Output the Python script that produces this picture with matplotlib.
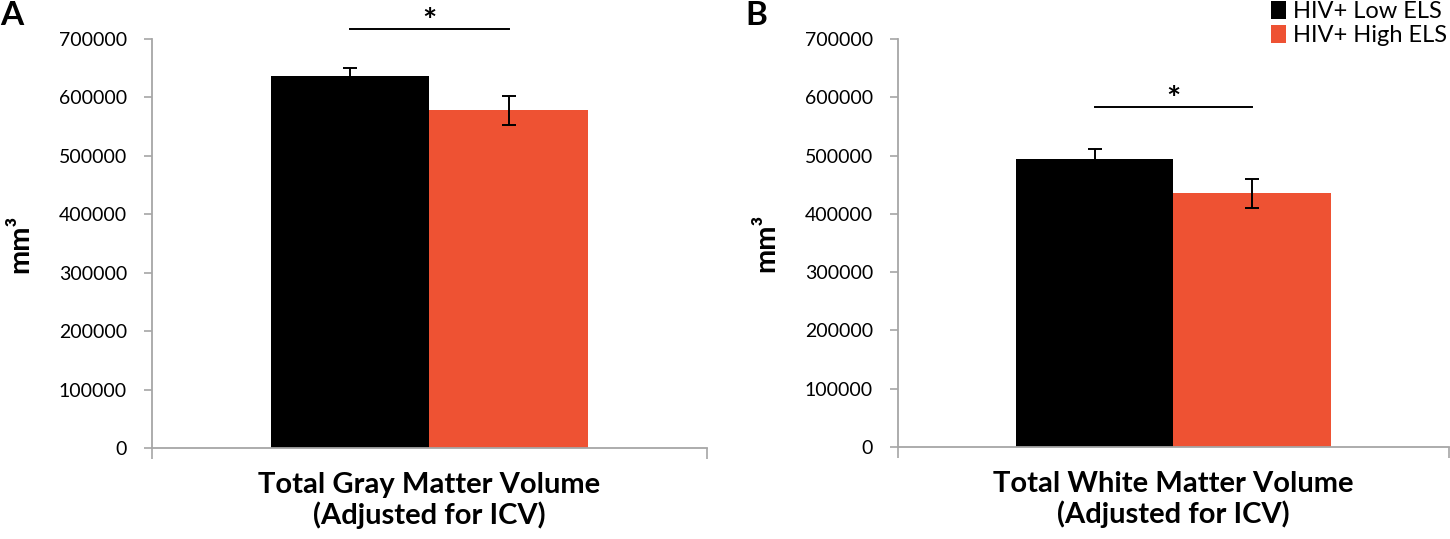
import numpy as np
import matplotlib
matplotlib.use("Agg")
import matplotlib.pyplot as plt
from matplotlib.patches import Patch

plt.rcParams['font.family'] = ['Lato', 'DejaVu Sans']

groups = ['HIV+ Low ELS', 'HIV+ High ELS']
colors = ['#000000', '#EE5233']

# panel A: total gray matter, panel B: total white matter (mm^3)
gray_means = [636000, 578000]
gray_errs = [14000, 25000]
white_means = [493500, 435000]
white_errs = [18000, 25000]

panel_titles = ['Total Gray Matter Volume\n(Adjusted for ICV)',
                'Total White Matter Volume\n(Adjusted for ICV)']
yticks = np.arange(0, 700001, 100000)

# significance bar heights (data units) and star heights
sig_y = [716500, 583000]
star_y = [728000, 594000]

fig = plt.figure(figsize=(14.5, 5.39), dpi=100)
axA = fig.add_axes([0.1048, 0.1688, 0.3828, 0.7588])
axB = fig.add_axes([0.6193, 0.1707, 0.3800, 0.7569])

width = 0.285
axis_grey = '#A6A6A6'

for i, (ax, means, errs) in enumerate([(axA, gray_means, gray_errs),
                                       (axB, white_means, white_errs)]):
    xs = [-width / 2, width / 2]
    for x, m, e, c in zip(xs, means, errs, colors):
        ax.bar(x, m, width=width, color=c, edgecolor='none', zorder=2)
        ax.errorbar(x, m, yerr=e, fmt='none', ecolor='black', elinewidth=1.4,
                    capsize=5, capthick=1.4, zorder=3)
    ax.set_xlim(-0.5, 0.5)
    ax.set_ylim(0, 700000)
    ax.set_yticks(yticks)
    ax.set_yticklabels([str(v) for v in yticks], fontsize=14)
    ax.set_xticks([-0.5, 0.5])
    ax.set_xticklabels(['', ''])
    ax.tick_params(axis='y', direction='out', length=6, width=1.2,
                   color=axis_grey, pad=12)
    ax.tick_params(axis='x', direction='out', length=8, width=1.2,
                   color=axis_grey)
    for s in ['top', 'right']:
        ax.spines[s].set_visible(False)
    for s in ['left', 'bottom']:
        ax.spines[s].set_color(axis_grey)
        ax.spines[s].set_linewidth(1.3)
    ax.set_xlabel(panel_titles[i], fontsize=21, fontweight='bold',
                  labelpad=6, linespacing=1.15)
    ax.set_ylabel('mm³', fontsize=21, fontweight='bold', labelpad=18)

    # significance marker
    ax.plot(xs, [sig_y[i], sig_y[i]], color='black', lw=1.4, clip_on=False)
    ax.text(0, star_y[i], '*', ha='center', va='center', fontsize=24,
            fontweight='bold', clip_on=False)

fig.text(0.0, 0.998, 'A', fontsize=24, fontweight='bold', ha='left', va='top')
fig.text(0.514, 0.998, 'B', fontsize=24, fontweight='bold', ha='left', va='top')

handles = [Patch(facecolor=c, edgecolor='none') for c in colors]
fig.legend(handles, groups, loc='upper right', bbox_to_anchor=(0.998, 0.998),
           frameon=False, fontsize=17, handlelength=0.65, handleheight=0.8,
           handletextpad=0.3, labelspacing=0.1, borderpad=0, borderaxespad=0)

fig.savefig('out.png', dpi=100)
